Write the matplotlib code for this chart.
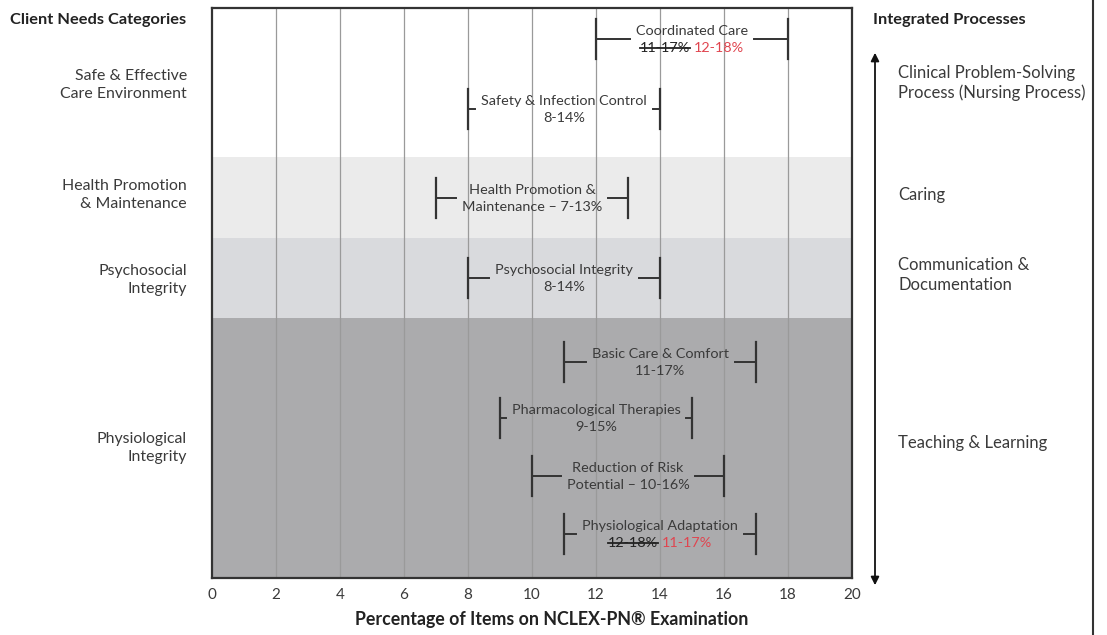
import matplotlib
matplotlib.use("Agg")
import matplotlib.pyplot as plt
from matplotlib.transforms import offset_copy

plt.rcParams['font.family'] = ['Lato', 'DejaVu Sans']

# ---------------- data ----------------
topic_line1 = ["Coordinated Care", "Safety & Infection Control", "Health Promotion &",
               "Psychosocial Integrity", "Basic Care & Comfort", "Pharmacological Therapies",
               "Reduction of Risk", "Physiological Adaptation"]
topic_line2 = ["12-18%", "8-14%", "Maintenance \u2013 7-13%", "8-14%", "11-17%", "9-15%",
               "Potential \u2013 10-16%", "11-17%"]
old_ranges = ["11-17%", None, None, None, None, None, None, "12-18%"]
low = [12, 8, 7, 8, 11, 9, 10, 11]
high = [18, 14, 13, 14, 17, 15, 16, 17]

client_needs = ["Safe & Effective\nCare Environment", "Health Promotion\n& Maintenance",
                "Psychosocial\nIntegrity", "Physiological\nIntegrity"]
processes = ["Clinical Problem-Solving\nProcess (Nursing Process)", "Caring",
             "Communication &\nDocumentation", "Teaching & Learning"]
xticks = [0, 2, 4, 6, 8, 10, 12, 14, 16, 18, 20]

# ---------------- layout (pixel-like vertical units, top = 0) ----------------
row_y = [31, 101, 190, 270, 354, 410, 468, 526]
band_edges = [0, 149, 230, 310, 570]
band_colors = ["#ffffff", "#ebebeb", "#d9dadd", "#ababad"]
client_y = [85, 195, 280, 448]     # image px
process_y = [83, 195, 275, 443]    # image px

W, H = 1107, 635
fig = plt.figure(figsize=(W / 100, H / 100), dpi=100)
ax = fig.add_axes([212 / W, 1 - 578 / H, 640 / W, 570 / H])
ax.set_xlim(0, 20)
ax.set_ylim(570, 0)

txt_col = "#3a3a3a"
for i in range(4):
    ax.axhspan(band_edges[i], band_edges[i + 1], color=band_colors[i], zorder=0, lw=0)
for x in xticks[1:-1]:
    ax.axvline(x, color="#9a9a9a", lw=0.9, zorder=1)

for s in ax.spines.values():
    s.set_color("#333333")
    s.set_linewidth(1.6)
ax.set_xticks(xticks)
ax.set_xticklabels([str(t) for t in xticks], fontsize=11, color=txt_col)
ax.tick_params(axis='x', length=0, pad=7)
ax.set_yticks([])
ax.set_xlabel("Percentage of Items on NCLEX-PN\u00ae Examination", fontsize=12.8,
              fontweight='bold', color="#222222")
ax.xaxis.set_label_coords(0.53, -0.058)

fig.canvas.draw()
renderer = fig.canvas.get_renderer()
fs = 10.4
for i in range(len(low)):
    yc = row_y[i]
    xc = (low[i] + high[i]) / 2
    ax.plot([low[i], low[i]], [yc - 20, yc + 20], color="#333333", lw=1.6, zorder=3)
    ax.plot([high[i], high[i]], [yc - 20, yc + 20], color="#333333", lw=1.6, zorder=3)
    t1 = ax.text(xc, yc - 8, topic_line1[i], ha='center', va='center', fontsize=fs,
                 color=txt_col, zorder=4)
    items = [t1]
    if old_ranges[i] is None:
        t2 = ax.text(xc, yc + 9, topic_line2[i], ha='center', va='center', fontsize=fs,
                     color=txt_col, zorder=4)
        items.append(t2)
    else:
        to = ax.text(xc, yc + 9, old_ranges[i], ha='left', va='center', fontsize=fs,
                     color="#222222", zorder=4)
        tn = ax.text(xc, yc + 9, topic_line2[i], ha='left', va='center', fontsize=fs,
                     color="#e0454f", zorder=4)
        wo = to.get_window_extent(renderer).width
        wn = tn.get_window_extent(renderer).width
        gap = 4
        total = wo + gap + wn
        to.set_transform(offset_copy(ax.transData, fig=fig, x=-total / 2 * 72 / 100, y=0, units='points'))
        tn.set_transform(offset_copy(ax.transData, fig=fig, x=(-total / 2 + wo + gap) * 72 / 100, y=0, units='points'))
        fig.canvas.draw()
        bb = to.get_window_extent(renderer)
        inv = ax.transData.inverted()
        (x0, ym), (x1, _) = inv.transform([(bb.x0, (bb.y0 + bb.y1) / 2), (bb.x1, 0)])
        ax.plot([x0, x1], [ym, ym], color="#222222", lw=1.3, zorder=5)
        items += [to, tn]
    fig.canvas.draw()
    inv = ax.transData.inverted()
    left_px = min(t.get_window_extent(renderer).x0 for t in items)
    right_px = max(t.get_window_extent(renderer).x1 for t in items)
    lx = inv.transform((left_px - 6, 0))[0]
    rx = inv.transform((right_px + 6, 0))[0]
    ax.plot([low[i], lx], [yc, yc], color="#333333", lw=1.4, zorder=3)
    ax.plot([rx, high[i]], [yc, yc], color="#333333", lw=1.4, zorder=3)

# left labels
fig.text(10 / W, 1 - 20 / H, "Client Needs Categories", ha='left', va='center',
         fontsize=11.8, fontweight='bold', color="#222222")
for lab, y in zip(client_needs, client_y):
    fig.text(187 / W, 1 - y / H, lab, ha='right', va='center', fontsize=11.4,
             color=txt_col, linespacing=1.3)

# right labels
fig.text(873 / W, 1 - 20 / H, "Integrated Processes", ha='left', va='center',
         fontsize=11.8, fontweight='bold', color="#222222")
for lab, y in zip(processes, process_y):
    fig.text(898 / W, 1 - y / H, lab, ha='left', va='center', fontsize=12,
             color=txt_col, linespacing=1.25)

# double arrow
fig.add_artist(matplotlib.patches.FancyArrowPatch(
    (875 / W, 1 - 588 / H), (875 / W, 1 - 50 / H), transform=fig.transFigure,
    arrowstyle='<|-|>', mutation_scale=12, color="#111111", lw=1.3))
# right border
fig.add_artist(matplotlib.lines.Line2D([1093 / W, 1093 / W], [0, 1], transform=fig.transFigure,
                                       color="#333333", lw=1.5))

fig.savefig("out.png", dpi=100)
